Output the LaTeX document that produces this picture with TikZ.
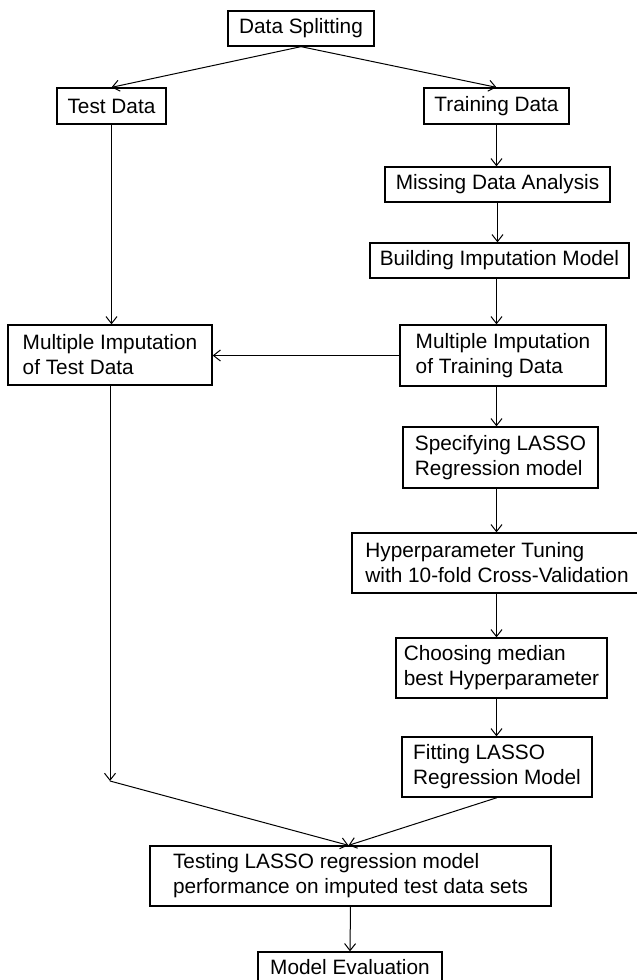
\documentclass[tikz,border=0pt]{standalone}
\usepackage{fontspec}
\setmainfont{Liberation Sans}
\usetikzlibrary{arrows.meta,calc}
\tikzset{%
    step box/.style={%
        draw, align=left, inner sep=0pt, line width=1.3pt, fill=white, font=\fontsize{20.8}{25}\selectfont
    }
}
\tikzset{%
    flow/.style={%
        ->, >={Straight Barb[length=7pt,width=11pt]}, line width=1pt
    }
}

\begin{document}
\begin{tikzpicture}[x=1pt,y=-1pt]
  \useasboundingbox (0,0) rectangle (637,980);

  % top
  \node[step box, minimum width=146pt, minimum height=35pt] (DS) at (301,28.5) {Data Splitting};
  \node[step box, minimum width=109pt, minimum height=36pt] (TestD) at (111.5,106) {Test Data};
  \node[step box, minimum width=145pt, minimum height=36pt] (TrainD) at (496.5,106) {Training Data};

  % training branch
  \node[step box, minimum width=225pt, minimum height=35pt] (MDA) at (497.5,184.5) {Missing Data Analysis};
  \node[step box, minimum width=259pt, minimum height=35pt] (BIM) at (499.5,260.5) {Building Imputation Model};
  \node[step box, minimum width=206pt, minimum height=61pt] (MITrain) at (503,355.5) {Multiple Imputation\\of Training Data};
  \node[step box, minimum width=204pt, minimum height=60pt] (MITest) at (110,355) {Multiple Imputation\\of Test Data};
  \node[step box, minimum width=195pt, minimum height=61pt] (Spec) at (500.5,457.5) {Specifying LASSO\\Regression model};
  \node[step box, minimum width=290pt, minimum height=60pt] (Hyper) at (497,563) {Hyperparameter Tuning\\with 10-fold Cross-Validation};
  \node[step box, minimum width=211pt, minimum height=60pt] (Choose) at (501.5,668) {Choosing median\\best Hyperparameter};
  \node[step box, minimum width=190pt, minimum height=60pt] (Fit) at (497,767) {Fitting LASSO\\Regression Model};

  % bottom
  \node[step box, minimum width=401pt, minimum height=60pt] (Testing) at (350.5,876) {Testing LASSO regression model\\performance on imputed test data sets};
  \node[step box, minimum width=184pt, minimum height=30pt] (Eval) at (350,967) {Model Evaluation};

  \coordinate (join) at (110,781);

  %
  \draw[flow] (DS.south) -- (TestD.north);
  \draw[flow] (DS.south) -- (TrainD.north);
  \draw[flow] (TestD.south) -- (TestD.south |- MITest.north);
  \draw[flow] (TrainD.south) -- (TrainD.south |- MDA.north);
  \draw[flow] (MDA.south) -- (MDA.south |- BIM.north);
  \draw[flow] (TrainD.south |- BIM.south) -- (TrainD.south |- MITrain.north);
  \draw[flow] (MITrain.west) -- (MITrain.west -| MITest.east);
  \draw[flow] (TrainD.south |- MITrain.south) -- (TrainD.south |- Spec.north);
  \draw[flow] (TrainD.south |- Spec.south) -- (TrainD.south |- Hyper.north);
  \draw[flow] (TrainD.south |- Hyper.south) -- (TrainD.south |- Choose.north);
  \draw[flow] (TrainD.south |- Choose.south) -- (TrainD.south |- Fit.north);
  \draw[flow] (MITest.south) -- (join);
  \draw[flow] (join) -- ([xshift=-2pt]Testing.north);
  \draw[flow] (Fit.south) -- ([xshift=-2pt]Testing.north);
  \draw[flow] (Testing.south) -- (Eval.north);
\end{tikzpicture}
\end{document}
